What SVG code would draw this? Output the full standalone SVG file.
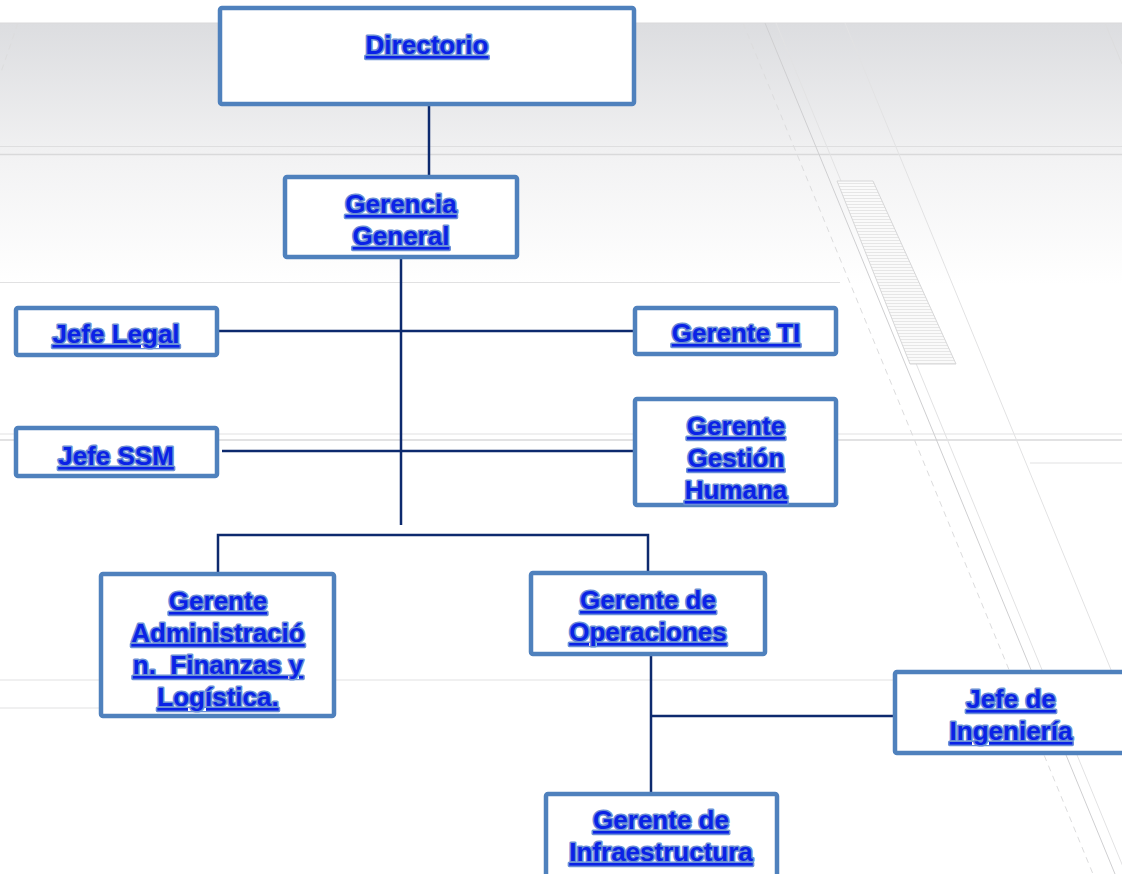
<svg xmlns="http://www.w3.org/2000/svg" width="1122" height="874" viewBox="0 0 1122 874">
<defs>
<linearGradient id="bg1" x1="0" y1="0" x2="0" y2="1">
<stop offset="0" stop-color="#dcdde0"/>
<stop offset="1" stop-color="#f1f1f2"/>
</linearGradient>
<linearGradient id="bg2" x1="0" y1="0" x2="0" y2="1">
<stop offset="0" stop-color="#f2f2f3"/>
<stop offset="1" stop-color="#ffffff"/>
</linearGradient>
<pattern id="hatch" width="4" height="3" patternUnits="userSpaceOnUse">
<rect width="4" height="3" fill="#fafafa"/>
<line x1="0" y1="0.5" x2="4" y2="0.5" stroke="#d8d8d8" stroke-width="0.6"/>
</pattern>
</defs>
<style>
.box{fill:#ffffff;stroke:#4f81bd;stroke-width:4.5}
.lbl{font-family:"Liberation Sans",Arial,sans-serif;font-weight:bold;font-size:26px;fill:#0a22e6;stroke:#6a8fd6;stroke-width:3.2;paint-order:stroke;stroke-linejoin:round;text-anchor:middle;text-decoration:underline;white-space:pre}
.con{stroke:#0d2a6e;stroke-width:2.5;fill:none}
.bgl{stroke:#d9d9da;fill:none}
</style>
<g id="background">
<rect width="1122" height="874" fill="#ffffff"/>
<rect x="0" y="23" width="1122" height="131" fill="url(#bg1)"/>
<rect x="0" y="155" width="1122" height="130" fill="url(#bg2)"/>
<line class="bgl" x1="0" y1="23" x2="1122" y2="23" stroke-width="1"/>
<line class="bgl" x1="0" y1="146.5" x2="1122" y2="146.5" stroke-width="0.8"/>
<line class="bgl" x1="0" y1="154.5" x2="1122" y2="154.5" stroke-width="1.5"/>
<line class="bgl" x1="0" y1="282.5" x2="840" y2="282.5" stroke-width="0.8"/>
<line class="bgl" x1="0" y1="434" x2="1122" y2="434" stroke-width="0.8"/>
<line class="bgl" x1="0" y1="440" x2="1122" y2="440" stroke-width="1.4"/>
<line class="bgl" x1="1030" y1="463" x2="1122" y2="463" stroke-width="0.8"/>
<line class="bgl" x1="0" y1="680" x2="1122" y2="680" stroke-width="0.8"/>
<line class="bgl" x1="0" y1="708" x2="110" y2="708" stroke-width="0.8"/>
<line x1="765" y1="23" x2="1115" y2="874" stroke="#cfcfd1" stroke-width="1"/>
<line x1="776" y1="23" x2="1126" y2="874" stroke="#e2e2e3" stroke-width="1"/>
<line x1="845" y1="23" x2="1195" y2="874" stroke="#e2e2e3" stroke-width="1"/>
<line x1="743" y1="23" x2="1093" y2="874" stroke="#dcdcdd" stroke-width="1" stroke-dasharray="6 5"/>
<line x1="1105" y1="23" x2="1122" y2="64" stroke="#dcdcdd" stroke-width="1"/>
<line x1="18" y1="23" x2="0" y2="75" stroke="#dcdcdd" stroke-width="1" stroke-dasharray="6 5"/>
<polygon points="837,181 873,181 956,364 910,364" fill="url(#hatch)" stroke="#d6d6d7" stroke-width="1"/>
</g>
<g id="connectors">
<line class="con" x1="429" y1="104" x2="429" y2="176"/>
<line class="con" x1="401" y1="257" x2="401" y2="525"/>
<line class="con" x1="213" y1="331" x2="635" y2="331"/>
<line class="con" x1="222" y1="451" x2="635" y2="451"/>
<polyline class="con" points="218,573 218,535 648,535 648,572"/>
<line class="con" x1="651" y1="654" x2="651" y2="793"/>
<line class="con" x1="651" y1="716" x2="894" y2="716"/>
</g>
<g id="n-directorio">
<rect class="box" x="220" y="8" width="414" height="96" rx="2"/>
<text class="lbl" x="427" y="54">Directorio</text>
</g>
<g id="n-gerencia-general">
<rect class="box" x="285" y="177" width="232" height="80" rx="2"/>
<text class="lbl" x="401" y="213">Gerencia</text>
<text class="lbl" x="401" y="245">General</text>
</g>
<g id="n-jefe-legal">
<rect class="box" x="16" y="308" width="201" height="47" rx="2"/>
<text class="lbl" x="116" y="343">Jefe Legal</text>
</g>
<g id="n-gerente-ti">
<rect class="box" x="635" y="308" width="201" height="46" rx="2"/>
<text class="lbl" x="736" y="342">Gerente TI</text>
</g>
<g id="n-jefe-ssm">
<rect class="box" x="16" y="428" width="201" height="48" rx="2"/>
<text class="lbl" x="116" y="465">Jefe SSM</text>
</g>
<g id="n-gestion-humana">
<rect class="box" x="635" y="399" width="201" height="106" rx="2"/>
<text class="lbl" x="736" y="435">Gerente</text>
<text class="lbl" x="736" y="467">Gestión</text>
<text class="lbl" x="736" y="499">Humana</text>
</g>
<g id="n-administracion">
<rect class="box" x="101" y="574" width="233" height="142" rx="2"/>
<text class="lbl" x="218" y="610">Gerente</text>
<text class="lbl" x="218" y="642">Administració</text>
<text class="lbl" x="218" y="674">n.  Finanzas y</text>
<text class="lbl" x="218" y="706">Logística.</text>
</g>
<g id="n-operaciones">
<rect class="box" x="531" y="573" width="234" height="81" rx="2"/>
<text class="lbl" x="648" y="609">Gerente de</text>
<text class="lbl" x="648" y="641">Operaciones</text>
</g>
<g id="n-ingenieria">
<rect class="box" x="895" y="672" width="232" height="81" rx="2"/>
<text class="lbl" x="1011" y="708">Jefe de</text>
<text class="lbl" x="1011" y="740">Ingeniería</text>
</g>
<g id="n-infraestructura">
<rect class="box" x="546" y="794" width="231" height="90" rx="2"/>
<text class="lbl" x="661" y="829">Gerente de</text>
<text class="lbl" x="661" y="861">Infraestructura</text>
</g>
</svg>
